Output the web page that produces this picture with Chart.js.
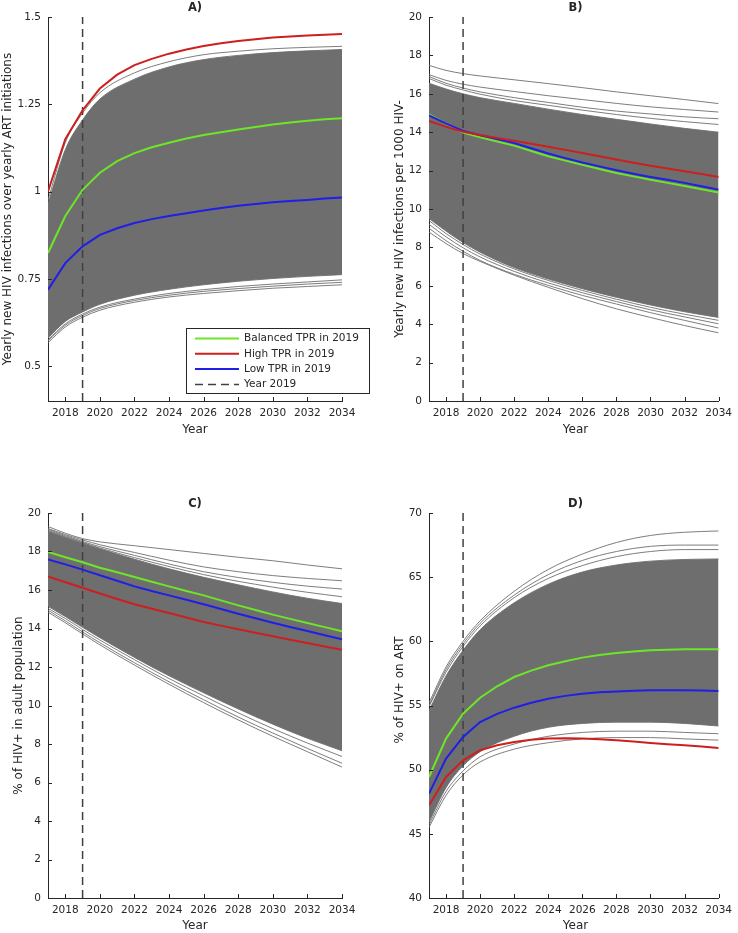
<!DOCTYPE html>
<html>
<head>
<meta charset="utf-8">
<script src="https://cdn.jsdelivr.net/npm/chart.js@4.4.1/dist/chart.umd.min.js"></script>
<style>
  html, body { margin: 0; padding: 0; background: #ffffff; }
  #wrap { position: relative; width: 738px; height: 933px; }
  canvas { position: absolute; }
</style>
</head>
<body>
<div id="wrap">
  <canvas id="chartA" width="370" height="440" style="left:0;top:0"></canvas>
  <canvas id="chartB" width="368" height="440" style="left:370px;top:0"></canvas>
  <canvas id="chartC" width="370" height="437" style="left:0;top:496px"></canvas>
  <canvas id="chartD" width="368" height="437" style="left:370px;top:496px"></canvas>
</div>
<script>
// Years
const years = [2017, 2018, 2019, 2020, 2021, 2022, 2023, 2024, 2025, 2026, 2027, 2028, 2029, 2030, 2031, 2032, 2033, 2034]
const grayYears = [2017, 2018, 2019, 2020, 2022, 2024, 2026, 2028, 2030, 2032, 2034]
const xTicks = [2018, 2020, 2022, 2024, 2026, 2028, 2030, 2032, 2034]
const markerYear = 2019

// A) new infections / ART initiations
const ratioBalanced = [0.824, 0.93, 1.005, 1.054, 1.087, 1.11, 1.127, 1.14, 1.152, 1.162, 1.17, 1.178, 1.185, 1.192, 1.198, 1.203, 1.207, 1.21]
const ratioHigh = [1.0, 1.15, 1.233, 1.295, 1.335, 1.362, 1.38, 1.395, 1.407, 1.417, 1.425, 1.431, 1.436, 1.441, 1.444, 1.447, 1.449, 1.451]
const ratioLow = [0.719, 0.795, 0.843, 0.876, 0.895, 0.91, 0.921, 0.93, 0.938, 0.946, 0.953, 0.959, 0.964, 0.969, 0.973, 0.976, 0.98, 0.983]
const ratioBandTop = [0.965, 1.12, 1.205, 1.265, 1.322, 1.357, 1.378, 1.39, 1.398, 1.403, 1.407]
const ratioBandBottom = [0.58, 0.628, 0.655, 0.677, 0.703, 0.72, 0.733, 0.743, 0.751, 0.757, 0.762]
const ratioRuns = [
  [0.975, 1.14, 1.225, 1.283, 1.34, 1.372, 1.392, 1.402, 1.409, 1.413, 1.416],
  [0.567, 0.612, 0.64, 0.66, 0.683, 0.698, 0.708, 0.716, 0.723, 0.728, 0.733],
  [0.572, 0.617, 0.645, 0.665, 0.688, 0.703, 0.714, 0.722, 0.729, 0.735, 0.74],
  [0.575, 0.621, 0.649, 0.669, 0.692, 0.708, 0.719, 0.728, 0.735, 0.741, 0.747],
]
const ratioTicks = [0.5, 0.75, 1, 1.25, 1.5]

// B) incidence per 1000 HIV-
const incBalanced = [14.93, 14.43, 13.98, 13.74, 13.52, 13.3, 13.02, 12.75, 12.52, 12.3, 12.08, 11.88, 11.7, 11.52, 11.36, 11.2, 11.03, 10.86]
const incHigh = [14.59, 14.28, 14.02, 13.85, 13.7, 13.55, 13.4, 13.24, 13.08, 12.92, 12.75, 12.58, 12.41, 12.25, 12.11, 11.97, 11.82, 11.67]
const incLow = [14.88, 14.45, 14.07, 13.84, 13.64, 13.44, 13.16, 12.89, 12.65, 12.42, 12.22, 12.02, 11.84, 11.67, 11.52, 11.36, 11.19, 11.01]
const incBandTop = [16.55, 16.25, 16.0, 15.8, 15.5, 15.2, 14.92, 14.67, 14.43, 14.2, 14.0]
const incBandBottom = [9.5, 8.85, 8.25, 7.75, 6.95, 6.35, 5.85, 5.4, 5.0, 4.65, 4.35]
const incRuns = [
  [17.48, 17.22, 17.05, 16.93, 16.73, 16.53, 16.32, 16.1, 15.9, 15.7, 15.49],
  [17.0, 16.7, 16.5, 16.35, 16.12, 15.9, 15.7, 15.5, 15.32, 15.18, 15.05],
  [16.9, 16.55, 16.3, 16.1, 15.8, 15.55, 15.3, 15.1, 14.95, 14.8, 14.7],
  [16.8, 16.45, 16.2, 15.98, 15.65, 15.4, 15.15, 14.92, 14.72, 14.55, 14.4],
  [8.8, 8.2, 7.68, 7.27, 6.55, 5.92, 5.33, 4.8, 4.35, 3.93, 3.55],
  [9.0, 8.35, 7.8, 7.32, 6.6, 6.02, 5.5, 5.05, 4.6, 4.2, 3.8],
  [9.2, 8.55, 7.98, 7.5, 6.75, 6.15, 5.64, 5.18, 4.75, 4.38, 4.02],
  [9.4, 8.72, 8.15, 7.65, 6.88, 6.28, 5.76, 5.3, 4.88, 4.52, 4.2],
]
const incTicks = [0, 2, 4, 6, 8, 10, 12, 14, 16, 18, 20]

// C) prevalence in adults
const prevBalanced = [17.97, 17.7, 17.44, 17.16, 16.92, 16.68, 16.43, 16.19, 15.95, 15.72, 15.46, 15.2, 14.96, 14.72, 14.5, 14.29, 14.07, 13.85]
const prevHigh = [16.71, 16.4, 16.12, 15.82, 15.53, 15.26, 15.03, 14.81, 14.57, 14.34, 14.15, 13.96, 13.78, 13.6, 13.42, 13.25, 13.07, 12.9]
const prevLow = [17.59, 17.33, 17.06, 16.77, 16.48, 16.19, 15.95, 15.72, 15.49, 15.26, 15.01, 14.77, 14.53, 14.3, 14.08, 13.87, 13.65, 13.44]
const prevBandTop = [19.05, 18.74, 18.44, 18.14, 17.6, 17.1, 16.66, 16.27, 15.9, 15.57, 15.3]
const prevBandBottom = [15.15, 14.62, 14.06, 13.52, 12.5, 11.54, 10.66, 9.82, 9.03, 8.3, 7.65]
const prevRuns = [
  [19.3, 18.95, 18.67, 18.5, 18.3, 18.1, 17.9, 17.7, 17.52, 17.3, 17.1],
  [19.2, 18.88, 18.6, 18.35, 17.95, 17.55, 17.2, 16.95, 16.75, 16.6, 16.48],
  [19.15, 18.83, 18.52, 18.25, 17.8, 17.35, 16.95, 16.65, 16.4, 16.2, 16.05],
  [19.1, 18.78, 18.47, 18.18, 17.68, 17.22, 16.8, 16.45, 16.15, 15.88, 15.65],
  [14.85, 14.3, 13.72, 13.15, 12.1, 11.1, 10.15, 9.25, 8.4, 7.6, 6.8],
  [14.95, 14.4, 13.82, 13.26, 12.22, 11.23, 10.3, 9.4, 8.57, 7.77, 7.0],
  [15.05, 14.52, 13.95, 13.4, 12.38, 11.4, 10.5, 9.62, 8.8, 8.05, 7.35],
]
const prevTicks = [0, 2, 4, 6, 8, 10, 12, 14, 16, 18, 20]

// D) % on ART
const artBalanced = [49.43, 52.42, 54.36, 55.61, 56.5, 57.22, 57.72, 58.13, 58.45, 58.73, 58.93, 59.09, 59.2, 59.3, 59.35, 59.38, 59.39, 59.39]
const artHigh = [47.22, 49.43, 50.73, 51.51, 51.9, 52.16, 52.33, 52.42, 52.44, 52.42, 52.37, 52.29, 52.19, 52.08, 51.99, 51.9, 51.8, 51.69]
const artLow = [48.13, 50.86, 52.55, 53.71, 54.35, 54.83, 55.22, 55.53, 55.75, 55.92, 56.03, 56.1, 56.15, 56.18, 56.18, 56.18, 56.16, 56.13]
const artBandTop = [54.6, 57.3, 59.3, 60.9, 63.0, 64.45, 65.4, 65.95, 66.25, 66.38, 66.42]
const artBandBottom = [45.9, 48.6, 50.3, 51.4, 52.6, 53.3, 53.6, 53.7, 53.7, 53.6, 53.4]
const artRuns = [
  [55.2, 58.0, 60.0, 61.6, 63.9, 65.6, 66.8, 67.7, 68.25, 68.5, 68.6],
  [55.0, 57.8, 59.8, 61.4, 63.6, 65.2, 66.3, 67.0, 67.4, 67.5, 67.5],
  [54.9, 57.6, 59.6, 61.2, 63.4, 64.9, 65.9, 66.6, 67.0, 67.15, 67.15],
  [45.5, 48.0, 49.6, 50.6, 51.6, 52.1, 52.4, 52.5, 52.5, 52.4, 52.3],
  [45.7, 48.3, 49.9, 51.0, 52.0, 52.6, 52.9, 53.0, 53.0, 52.9, 52.8],
]
const artTicks = [40, 45, 50, 55, 60, 65, 70]

const legendLabels = ["Balanced TPR in 2019", "High TPR in 2019", "Low TPR in 2019", "Year 2019"]

// Styles
const GRAY = "#6e6e6e"
const AXIS = "#262626"
const GREEN = "#6ee628"
const RED = "#cc1f1f"
const BLUE = "#1f1fe6"
const DASH = "#404040"
const FONT = "DejaVu Sans"

function pts(xs, ys) {
  return xs.map((x, i) => ({ x, y: ys[i] }))
}

function grayLine(values, extra) {
  return Object.assign({
    data: pts(grayYears, values),
    borderColor: GRAY,
    borderWidth: 0.9,
    cubicInterpolationMode: "monotone",
    fill: false,
    order: 3,
  }, extra || {})
}

function colorLine(values, color) {
  return { data: pts(years, values), borderColor: color, borderWidth: 2, fill: false, order: 0 }
}

// Ticks pointing into the plot, like the original
const inwardTicks = {
  id: "inwardTicks",
  afterDraw(chart) {
    const { ctx, chartArea } = chart
    const x = chart.scales.x
    const y = chart.scales.y
    ctx.save()
    ctx.strokeStyle = AXIS
    ctx.lineWidth = 1
    ctx.beginPath()
    x.ticks.forEach((t) => {
      const px = Math.round(x.getPixelForValue(t.value)) + 0.5
      ctx.moveTo(px, chartArea.bottom)
      ctx.lineTo(px, chartArea.bottom - 4)
    })
    y.ticks.forEach((t) => {
      const py = Math.round(y.getPixelForValue(t.value)) + 0.5
      ctx.moveTo(chartArea.left, py)
      ctx.lineTo(chartArea.left + 4, py)
    })
    ctx.stroke()
    ctx.restore()
  },
}

// Panel title, axis labels and (for panel A) the legend box
const panelText = {
  id: "panelText",
  afterDraw(chart, args, opts) {
    const ctx = chart.ctx
    ctx.save()
    ctx.fillStyle = AXIS
    ctx.textAlign = "center"
    ctx.textBaseline = "middle"
    ctx.font = "bold 11.5px " + FONT
    ctx.fillText(opts.title, opts.titleX, opts.titleY)
    ctx.font = "12px " + FONT
    ctx.fillText("Year", opts.titleX, opts.xLabelY)
    ctx.translate(opts.yLabelX, opts.yLabelY)
    ctx.rotate(-Math.PI / 2)
    ctx.fillText(opts.yLabel, 0, 0)
    ctx.restore()

    if (opts.legend) {
      const L = opts.legend
      ctx.save()
      ctx.fillStyle = "#ffffff"
      ctx.fillRect(L.x, L.y, L.w, L.h)
      ctx.strokeStyle = AXIS
      ctx.lineWidth = 1
      ctx.strokeRect(L.x + 0.5, L.y + 0.5, L.w - 1, L.h - 1)
      const styles = [
        { color: GREEN, width: 2, dash: [] },
        { color: RED, width: 2, dash: [] },
        { color: BLUE, width: 2, dash: [] },
        { color: DASH, width: 1.5, dash: [8, 5] },
      ]
      ctx.font = "10.5px " + FONT
      ctx.textBaseline = "middle"
      legendLabels.forEach((label, i) => {
        const ry = L.y + 10.5 + i * 15.3
        ctx.strokeStyle = styles[i].color
        ctx.lineWidth = styles[i].width
        ctx.setLineDash(styles[i].dash)
        ctx.beginPath()
        ctx.moveTo(L.x + 9, ry)
        ctx.lineTo(L.x + 53, ry)
        ctx.stroke()
        ctx.setLineDash([])
        ctx.fillStyle = AXIS
        ctx.fillText(label, L.x + 58, ry)
      })
      ctx.restore()
    }
  },
}

function makePanel(canvasId, cfg) {
  const canvas = document.getElementById(canvasId)
  const W = canvas.width
  const H = canvas.height
  const datasets = [
    grayLine(cfg.bandTop, { backgroundColor: GRAY, fill: "+1" }),
    grayLine(cfg.bandBottom),
    ...cfg.runs.map((r) => grayLine(r)),
    {
      data: [{ x: markerYear, y: cfg.yMin }, { x: markerYear, y: cfg.yMax }],
      borderColor: DASH,
      borderWidth: 1.5,
      borderDash: [8, 5],
      fill: false,
      order: 1,
    },
    colorLine(cfg.high, RED),
    colorLine(cfg.low, BLUE),
    colorLine(cfg.balanced, GREEN),
  ]

  return new Chart(canvas, {
    type: "line",
    data: { datasets },
    options: {
      responsive: false,
      animation: false,
      devicePixelRatio: 1,
      elements: { point: { radius: 0 } },
      layout: { padding: { left: 0, top: cfg.area.top, right: W - cfg.area.right, bottom: 0 } },
      plugins: {
        legend: { display: false },
        tooltip: { enabled: false },
        panelText: cfg.text,
      },
      scales: {
        x: {
          type: "linear",
          min: 2017,
          max: 2034,
          grid: { display: false, drawTicks: false },
          border: { display: true, color: AXIS, width: 1 },
          ticks: { color: AXIS, font: { family: FONT, size: 10.5 }, padding: 6, maxRotation: 0, callback: (v) => String(v) },
          afterBuildTicks: (axis) => { axis.ticks = xTicks.map((v) => ({ value: v })) },
          afterFit: (axis) => { axis.height = H - cfg.area.bottom },
        },
        y: {
          type: "linear",
          min: cfg.yMin,
          max: cfg.yMax,
          grid: { display: false, drawTicks: false },
          border: { display: true, color: AXIS, width: 1 },
          ticks: { color: AXIS, font: { family: FONT, size: 10.5 }, padding: 7, callback: (v) => String(v) },
          afterBuildTicks: (axis) => { axis.ticks = cfg.ticks.map((v) => ({ value: v })) },
          afterFit: (axis) => { axis.width = cfg.area.left },
        },
      },
    },
    plugins: [inwardTicks, panelText],
  })
}

makePanel("chartA", {
  balanced: ratioBalanced, high: ratioHigh, low: ratioLow,
  bandTop: ratioBandTop, bandBottom: ratioBandBottom, runs: ratioRuns,
  yMin: 0.4, yMax: 1.5, ticks: ratioTicks,
  area: { left: 48, right: 342, top: 17, bottom: 401 },
  text: {
    title: "A)", titleX: 195, titleY: 8, xLabelY: 430,
    yLabel: "Yearly new HIV infections over yearly ART initiations", yLabelX: 8, yLabelY: 209,
    legend: { x: 186, y: 328, w: 184, h: 66 },
  },
})

makePanel("chartB", {
  balanced: incBalanced, high: incHigh, low: incLow,
  bandTop: incBandTop, bandBottom: incBandBottom, runs: incRuns,
  yMin: 0, yMax: 20, ticks: incTicks,
  area: { left: 59, right: 352, top: 17, bottom: 401 },
  text: {
    title: "B)", titleX: 205.5, titleY: 8, xLabelY: 430,
    yLabel: "Yearly new HIV infections per 1000 HIV-", yLabelX: 30, yLabelY: 219,
  },
})

makePanel("chartC", {
  balanced: prevBalanced, high: prevHigh, low: prevLow,
  bandTop: prevBandTop, bandBottom: prevBandBottom, runs: prevRuns,
  yMin: 0, yMax: 20, ticks: prevTicks,
  area: { left: 48, right: 342, top: 17, bottom: 402 },
  text: {
    title: "C)", titleX: 195, titleY: 8, xLabelY: 430,
    yLabel: "% of HIV+ in adult population", yLabelX: 18.5, yLabelY: 209.5,
  },
})

makePanel("chartD", {
  balanced: artBalanced, high: artHigh, low: artLow,
  bandTop: artBandTop, bandBottom: artBandBottom, runs: artRuns,
  yMin: 40, yMax: 70, ticks: artTicks,
  area: { left: 59, right: 352, top: 17, bottom: 402 },
  text: {
    title: "D)", titleX: 205.5, titleY: 8, xLabelY: 430,
    yLabel: "% of HIV+ on ART", yLabelX: 29.5, yLabelY: 194,
  },
})
</script>
</body>
</html>
